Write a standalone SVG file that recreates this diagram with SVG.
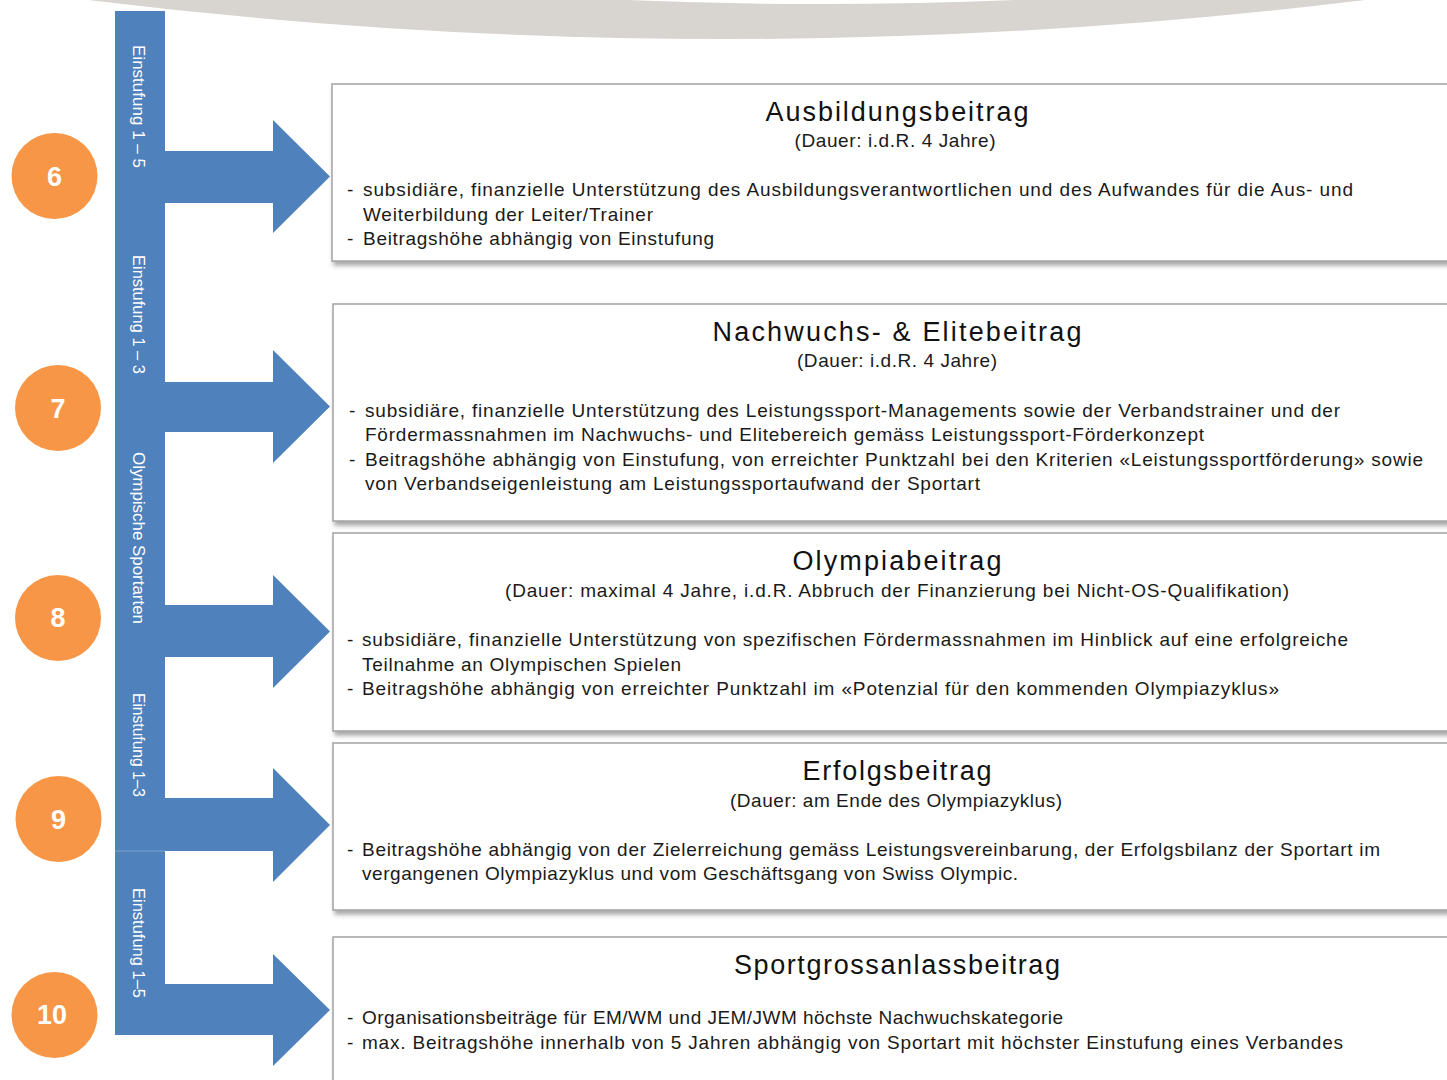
<svg xmlns="http://www.w3.org/2000/svg" width="1447" height="1080" viewBox="0 0 1447 1080">
<style>
text{font-family:"Liberation Sans",Arial,sans-serif}
.title{font-size:27px;fill:#111;text-anchor:middle}
.sub{font-size:19px;fill:#1a1a1a;text-anchor:middle}
.body{font-size:19px;fill:#1a1a1a}
.vt{font-size:16px;fill:#ffffff}
.num{font-size:27px;font-weight:bold;fill:#ffffff;text-anchor:middle}
.box{fill:#ffffff;stroke:#a3a3a3;stroke-width:1.5;filter:url(#sh)}
.arr{fill:#4f81bd}
.circ{fill:#f79646}
</style>
<defs>
<filter id="sh" x="-5%" y="-10%" width="115%" height="130%">
<feDropShadow dx="2" dy="4" stdDeviation="2" flood-color="#555555" flood-opacity="0.5"/>
</filter>
</defs>
<g id="topArc">
<path d="M88,0 Q726,78 1365,0 Z" fill="#d8d4d0"/>
<path d="M627,0 Q820,8 1015,0 Z" fill="#ffffff"/>
</g>
<g id="connectors">
<path class="arr" d="M115,11 H165 V151 H273 V120 L330,176.5 L273,233 V203 H115 Z"/>
<path class="arr" d="M115,203 H165 V382 H273 V350 L330,406.5 L273,463 V432 H115 Z"/>
<path class="arr" d="M115,432 H165 V605 H273 V575 L330,631.5 L273,688 V657 H115 Z"/>
<path class="arr" d="M115,657 H165 V798 H273 V768 L330,825 L273,882 V851 H115 Z"/>
<path class="arr" d="M115,851 H165 V984 H273 V954 L330,1010 L273,1066 V1035 H115 Z"/>
<line x1="115" y1="851" x2="165" y2="851" stroke="#7da0cf" stroke-width="1"/>
<text class="vt" transform="translate(133,45) rotate(90)" textLength="123" lengthAdjust="spacingAndGlyphs">Einstufung 1 – 5</text>
<text class="vt" transform="translate(133,255) rotate(90)" textLength="119" lengthAdjust="spacingAndGlyphs">Einstufung 1 – 3</text>
<text class="vt" transform="translate(133,452) rotate(90)" textLength="172" lengthAdjust="spacingAndGlyphs">Olympische Sportarten</text>
<text class="vt" transform="translate(133,693) rotate(90)" textLength="104" lengthAdjust="spacingAndGlyphs">Einstufung 1–3</text>
<text class="vt" transform="translate(133,888) rotate(90)" textLength="110" lengthAdjust="spacingAndGlyphs">Einstufung 1–5</text>
</g>
<g id="n6"><circle class="circ" cx="54.5" cy="176" r="43"/><text class="num" x="54.5" y="186">6</text></g>
<g id="n7"><circle class="circ" cx="58" cy="408" r="43"/><text class="num" x="58" y="418">7</text></g>
<g id="n8"><circle class="circ" cx="58" cy="618" r="43"/><text class="num" x="58" y="627">8</text></g>
<g id="n9"><circle class="circ" cx="58.5" cy="819" r="43"/><text class="num" x="58.5" y="829">9</text></g>
<g id="n10"><circle class="circ" cx="54.5" cy="1015" r="43"/><text class="num" x="52" y="1024">10</text></g>
<g id="box1">
<rect class="box" x="332" y="84" width="1130" height="177"/>
<text class="title" x="897" y="121" textLength="263">Ausbildungsbeitrag</text>
<text class="sub" x="895" y="147" textLength="201">(Dauer: i.d.R. 4 Jahre)</text>
<text class="body" x="347" y="196">-</text>
<text class="body" x="363" y="196" textLength="990">subsidiäre, finanzielle Unterstützung des Ausbildungsverantwortlichen und des Aufwandes für die Aus- und</text>
<text class="body" x="363" y="221" textLength="290">Weiterbildung der Leiter/Trainer</text>
<text class="body" x="347" y="245">-</text>
<text class="body" x="363" y="245" textLength="351">Beitragshöhe abhängig von Einstufung</text>
</g>
<g id="box2">
<rect class="box" x="333" y="304" width="1130" height="217"/>
<text class="title" x="897" y="341" textLength="369">Nachwuchs- &amp; Elitebeitrag</text>
<text class="sub" x="897" y="367" textLength="200">(Dauer: i.d.R. 4 Jahre)</text>
<text class="body" x="349" y="417">-</text>
<text class="body" x="365" y="417" textLength="975">subsidiäre, finanzielle Unterstützung des Leistungssport-Managements sowie der Verbandstrainer und der</text>
<text class="body" x="365" y="441" textLength="839">Fördermassnahmen im Nachwuchs- und Elitebereich gemäss Leistungssport-Förderkonzept</text>
<text class="body" x="349" y="466">-</text>
<text class="body" x="365" y="466" textLength="1058">Beitragshöhe abhängig von Einstufung, von erreichter Punktzahl bei den Kriterien «Leistungssportförderung» sowie</text>
<text class="body" x="365" y="490" textLength="615">von Verbandseigenleistung am Leistungssportaufwand der Sportart</text>
</g>
<g id="box3">
<rect class="box" x="333" y="533" width="1130" height="198"/>
<text class="title" x="897" y="570" textLength="209">Olympiabeitrag</text>
<text class="sub" x="897" y="597" textLength="784">(Dauer: maximal 4 Jahre, i.d.R. Abbruch der Finanzierung bei Nicht-OS-Qualifikation)</text>
<text class="body" x="347" y="646">-</text>
<text class="body" x="362" y="646" textLength="986">subsidiäre, finanzielle Unterstützung von spezifischen Fördermassnahmen im Hinblick auf eine erfolgreiche</text>
<text class="body" x="362" y="671" textLength="319">Teilnahme an Olympischen Spielen</text>
<text class="body" x="347" y="695">-</text>
<text class="body" x="362" y="695" textLength="917">Beitragshöhe abhängig von erreichter Punktzahl im «Potenzial für den kommenden Olympiazyklus»</text>
</g>
<g id="box4">
<rect class="box" x="333" y="743" width="1130" height="167"/>
<text class="title" x="897" y="780" textLength="189">Erfolgsbeitrag</text>
<text class="sub" x="896" y="807" textLength="332">(Dauer: am Ende des Olympiazyklus)</text>
<text class="body" x="347" y="856">-</text>
<text class="body" x="362" y="856" textLength="1018">Beitragshöhe abhängig von der Zielerreichung gemäss Leistungsvereinbarung, der Erfolgsbilanz der Sportart im</text>
<text class="body" x="362" y="880" textLength="656">vergangenen Olympiazyklus und vom Geschäftsgang von Swiss Olympic.</text>
</g>
<g id="box5">
<rect class="box" x="333" y="937" width="1130" height="200"/>
<text class="title" x="897" y="974" textLength="326">Sportgrossanlassbeitrag</text>
<text class="body" x="347" y="1024">-</text>
<text class="body" x="362" y="1024" textLength="701">Organisationsbeiträge für EM/WM und JEM/JWM höchste Nachwuchskategorie</text>
<text class="body" x="347" y="1049">-</text>
<text class="body" x="362" y="1049" textLength="981">max. Beitragshöhe innerhalb von 5 Jahren abhängig von Sportart mit höchster Einstufung eines Verbandes</text>
</g>
</svg>
